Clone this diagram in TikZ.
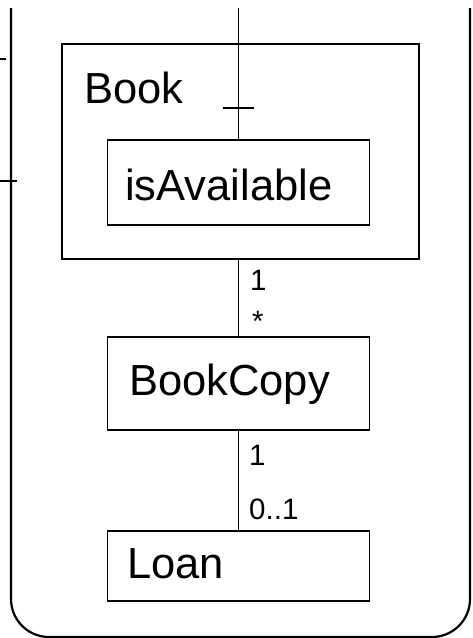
\documentclass[tikz,border=0pt]{standalone}
\usepackage{fontspec}
\setmainfont{Liberation Sans}
\begin{document}
\begin{tikzpicture}[x=1pt,y=-1pt,
  classbox/.style={draw,line width=1.8pt,rectangle,inner sep=0pt,minimum width=262pt},
  title/.style={anchor=base west,inner sep=0pt,font=\fontsize{43.5}{43.5}\selectfont},
  mult/.style={anchor=base west,inner sep=0pt,font=\fontsize{29.5}{29.5}\selectfont},
  link/.style={line width=1.8pt}]
\useasboundingbox (0,0) rectangle (473,638);

% enclosing frame, open at the top
\draw[line width=2.2pt,rounded corners=38pt] (11,8) -- (11,637) -- (470,637) -- (470,8);
\draw[line width=1.5pt] (0,59) -- (6,59);
\draw[line width=1.5pt] (0,181) -- (17,181);

% classes
\node[classbox,minimum width=357pt,minimum height=215pt] (book) at (240.5,151.5) {};
\node[title] (booklbl) at (84,103) {Book};
\node[classbox,minimum height=85pt] (avail) at (238.5,182.5) {};
\node[title] (availlbl) at (125,200) {isAvailable};
\node[classbox,minimum height=93pt] (copy) at (238.5,383.5) {};
\node[title] (copylbl) at (129,395) {BookCopy};
\node[classbox,minimum height=70pt] (loan) at (238.5,566) {};
\node[title] (loanlbl) at (127,578) {Loan};

% connectors
\coordinate (top) at (238.5,8);
\draw[link] (top) -- (avail.north);
\coordinate (tickL) at (223,108);
\coordinate (tickR) at (254,108);
\draw[line width=2.6pt] (tickL) -- (tickR);
\draw[link] (book.south -| copy.north) -- (copy.north);
\draw[link] (copy.south) -- (loan.north);

% multiplicities
\node[mult] (m1) at (250,290) {1};
\node[mult] (m2) at (252,331) {*};
\node[mult] (m3) at (249,465) {1};
\node[mult] (m4) at (249,519) {0..1};
\end{tikzpicture}
\end{document}
